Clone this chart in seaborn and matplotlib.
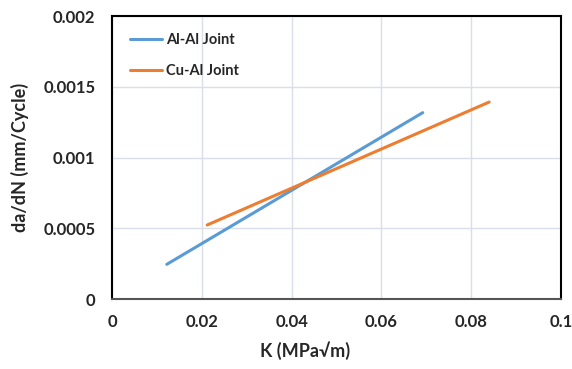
import matplotlib
matplotlib.use("Agg")
import matplotlib.pyplot as plt
import seaborn as sns
import pandas as pd

al_k = [0.0122, 0.0692]
al_dadn = [0.000245, 0.001317]
cu_k = [0.0212, 0.0840]
cu_dadn = [0.000523, 0.001392]
series_names = ["Al-Al Joint", "Cu-Al Joint"]
x_ticks = [0, 0.02, 0.04, 0.06, 0.08, 0.1]
x_tick_labels = ["0", "0.02", "0.04", "0.06", "0.08", "0.1"]
y_ticks = [0, 0.0005, 0.001, 0.0015, 0.002]
y_tick_labels = ["0", "0.0005", "0.001", "0.0015", "0.002"]

sns.set_theme(style="white")
plt.rcParams['font.family'] = ['Lato', 'DejaVu Sans']

df = pd.concat([
    pd.DataFrame({"K": al_k, "dadN": al_dadn, "Series": series_names[0]}),
    pd.DataFrame({"K": cu_k, "dadN": cu_dadn, "Series": series_names[1]}),
])

fig = plt.figure(figsize=(5.72, 3.69), dpi=100)
ax = fig.add_axes([0.1958, 0.1897, 0.9808 - 0.1958, 0.9566 - 0.1897])
sns.lineplot(data=df, x="K", y="dadN", hue="Series",
             palette=["#5b9bd5", "#ed7d31"], linewidth=2.2, ax=ax)

ax.set_xlim(0, 0.1)
ax.set_ylim(0, 0.002)
ax.set_xticks(x_ticks)
ax.set_xticklabels(x_tick_labels, fontweight="bold", fontsize=12)
ax.set_yticks(y_ticks)
ax.set_yticklabels(y_tick_labels, fontweight="bold", fontsize=12)
ax.tick_params(axis="x", pad=11, length=0)
ax.tick_params(axis="y", pad=12, length=0)
ax.grid(True, color="#d9dee8", linewidth=1)
ax.set_axisbelow(True)
for s in ax.spines.values():
    s.set_color("black")
    s.set_linewidth(1.5)
ax.spines["bottom"].set_color("#555555")

ax.set_xlabel("K (MPa√m)", fontweight="bold", fontsize=13, labelpad=9)
ax.xaxis.set_label_coords(0.43, -0.15)
ax.set_ylabel("da/dN (mm/Cycle)", fontweight="bold", fontsize=13, labelpad=10)

leg = ax.legend(loc="upper left", frameon=False, prop={"weight": "bold", "size": 10.5},
                handlelength=2.2, handletextpad=0.3, labelspacing=1.15,
                bbox_to_anchor=(0.01, 0.985))

fig.savefig("out.png", dpi=100)
